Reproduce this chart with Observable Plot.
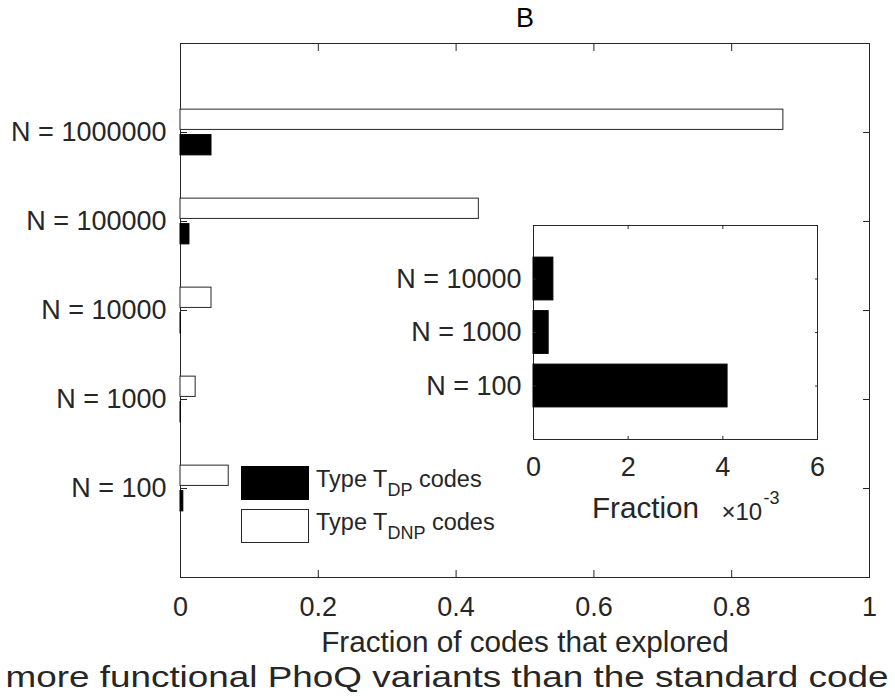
<!DOCTYPE html>
<html><head><meta charset="utf-8">
<script src="https://cdn.jsdelivr.net/npm/d3@7"></script>
<script src="https://cdn.jsdelivr.net/npm/@observablehq/plot@0.6"></script>
<style>
body{margin:0;background:#fff;}
#wrap{position:relative;width:895px;height:700px;font-family:"Liberation Sans",Arial,sans-serif;}
#wrap > svg{position:absolute;}
</style></head><body><div id="wrap"></div>
<script>
// ---- data ----
const categories = ["N = 100", "N = 1000", "N = 10000", "N = 100000", "N = 1000000"];
const typeDP  = [0.0041, 0.00032, 0.00042, 0.013, 0.045];
const typeDNP = [0.070, 0.022, 0.045, 0.433, 0.875];
const xTicks = [0, 0.2, 0.4, 0.6, 0.8, 1];
const insetCategories = ["N = 100", "N = 1000", "N = 10000"];
const insetDP = [0.0041, 0.00032, 0.00042];
const insetTicks = [0, 0.002, 0.004, 0.006];
const seriesNames = [["Type T", "DP", " codes"], ["Type T", "DNP", " codes"]];
const seriesFills = ["#000000", "#ffffff"];
const title = "B";
const xLabel = ["Fraction of codes that explored", "more functional PhoQ variants than the standard code"];
const insetXLabel = "Fraction";
const insetExp = ["\u00d710", "-3"];

// ---- styling / layout ----
const ink = "#262626";
const font = "Liberation Sans, Arial, Helvetica, sans-serif";
const groupOffset = 0.143, barHalf = 0.114, insetHalf = 0.4;

const rows = categories.map((c, i) => ({pos: i + 1, cat: c, dp: typeDP[i], dnp: typeDNP[i]}));
const insetRows = insetCategories.map((c, i) => ({pos: i + 1, cat: c, dp: insetDP[i]}));
const yTicks = categories.map((c, i) => i + 1);
const insetYTicks = insetCategories.map((c, i) => i + 1);

const wrap = document.getElementById("wrap");

const main = Plot.plot({
  width: 895, height: 700,
  marginLeft: 180, marginRight: 26, marginTop: 43, marginBottom: 123,
  style: {fontFamily: font, fontSize: "27px", color: ink, background: "transparent", overflow: "visible"},
  x: {domain: [0, 1]},
  y: {domain: [0, 6]},
  marks: [
    Plot.frame({stroke: ink, strokeWidth: 1}),
    Plot.rect(rows, {x1: () => 0, x2: "dnp", y1: d => d.pos + groupOffset - barHalf, y2: d => d.pos + groupOffset + barHalf, fill: seriesFills[1], stroke: ink, strokeWidth: 1}),
    Plot.rect(rows, {x1: () => 0, x2: "dp", y1: d => d.pos - groupOffset - barHalf, y2: d => d.pos - groupOffset + barHalf, fill: seriesFills[0], stroke: "#000", strokeWidth: 1}),
    Plot.axisX({anchor: "bottom", ticks: xTicks, tickSize: -7, text: null, label: null, stroke: ink}),
    Plot.axisX({anchor: "top", ticks: xTicks, tickSize: -7, text: null, label: null, stroke: ink}),
    Plot.axisX({anchor: "bottom", ticks: xTicks, tickSize: 0, tickPadding: 19, tickFormat: d => String(d), label: null, fill: ink}),
    Plot.axisY({anchor: "left", ticks: yTicks, tickSize: -7, text: null, label: null, stroke: ink}),
    Plot.axisY({anchor: "right", ticks: yTicks, tickSize: -7, text: null, label: null, stroke: ink}),
    Plot.axisY({anchor: "left", ticks: yTicks, tickSize: 0, tickPadding: 14, tickFormat: d => categories[d - 1], label: null, fill: ink}),
    Plot.text([xLabel[0]], {text: d => d, frameAnchor: "bottom", lineAnchor: "middle", dy: 65, fontSize: 29.7, fill: ink}),
    Plot.text([xLabel[1]], {text: d => d, frameAnchor: "bottom", lineAnchor: "middle", dx: -78, dy: 100, fontSize: 29.7, fill: ink, className: "xlab2"}),
    Plot.text([title], {text: d => d, frameAnchor: "top", lineAnchor: "middle", dy: -25, fontSize: 27, fill: "#000"})
  ]
});
main.style.left = "0px"; main.style.top = "0px";
wrap.appendChild(main);
// second label line is stretched wider in the reference
d3.select(main).selectAll(".xlab2 text").attr("textLength", 883).attr("lengthAdjust", "spacingAndGlyphs");

const inset = Plot.plot({
  width: 457, height: 334,
  marginLeft: 153, marginRight: 20, marginTop: 10, marginBottom: 110,
  style: {fontFamily: font, fontSize: "27px", color: ink, background: "transparent", overflow: "visible"},
  x: {domain: [0, 0.006]},
  y: {domain: [0, 4]},
  marks: [
    Plot.frame({fill: "white", stroke: ink, strokeWidth: 1}),
    Plot.rect(insetRows, {x1: () => 0, x2: "dp", y1: d => d.pos - insetHalf, y2: d => d.pos + insetHalf, fill: seriesFills[0], stroke: "#000"}),
    Plot.axisX({anchor: "bottom", ticks: insetTicks, tickSize: -3, text: null, label: null, stroke: ink}),
    Plot.axisX({anchor: "top", ticks: insetTicks, tickSize: -3, text: null, label: null, stroke: ink}),
    Plot.axisX({anchor: "bottom", ticks: insetTicks, tickSize: 0, tickPadding: 17, tickFormat: d => String(Math.round(d * 1000)), label: null, fill: ink}),
    Plot.axisY({anchor: "left", ticks: insetYTicks, tickSize: -3, text: null, label: null, stroke: ink}),
    Plot.axisY({anchor: "right", ticks: insetYTicks, tickSize: -3, text: null, label: null, stroke: ink}),
    Plot.axisY({anchor: "left", ticks: insetYTicks, tickSize: 0, tickPadding: 12, tickFormat: d => insetCategories[d - 1], label: null, fill: ink}),
    Plot.text([insetXLabel], {text: d => d, frameAnchor: "bottom", lineAnchor: "middle", dx: -30, dy: 69, fontSize: 29.7, fill: ink}),
    Plot.text([insetExp[0]], {text: d => d, frameAnchor: "bottom-right", lineAnchor: "middle", textAnchor: "start", dx: -96, dy: 73, fontSize: 24, fill: ink}),
    Plot.text([insetExp[1]], {text: d => d, frameAnchor: "bottom-right", lineAnchor: "middle", textAnchor: "start", dx: -54, dy: 59, fontSize: 18, fill: ink})
  ]
});
inset.style.left = "380px"; inset.style.top = "215px";
wrap.appendChild(inset);

// legend
const leg = d3.select(wrap).append("svg")
  .attr("width", 895).attr("height", 700)
  .style("left", "0px").style("top", "0px").style("pointer-events", "none")
  .attr("font-family", font).attr("fill", ink);
seriesNames.forEach((name, i) => {
  const top = 466 + i * 43;
  leg.append("rect").attr("x", 241.5).attr("y", top + 0.5).attr("width", 67).attr("height", 33)
    .attr("fill", seriesFills[i]).attr("stroke", i === 0 ? "#000" : ink);
  const t = leg.append("text").attr("x", 316).attr("y", top + 21).attr("font-size", 23.5);
  t.append("tspan").text(name[0]);
  t.append("tspan").attr("dy", 9).attr("font-size", 18).text(name[1]);
  t.append("tspan").attr("dy", -9).text(name[2]);
});
</script></body></html>
